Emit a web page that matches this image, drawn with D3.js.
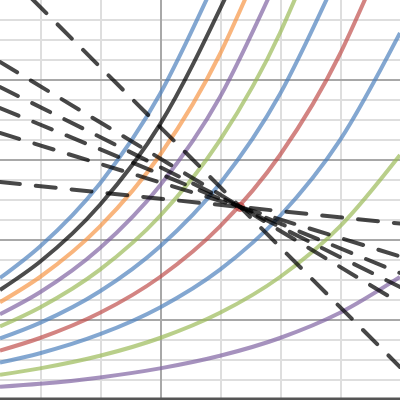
<!DOCTYPE html>
<meta charset="utf-8">
<style>
body { margin: 0; background: #fff; }
svg { display: block; }
.grid line { shape-rendering: crispEdges; }
.grid path { display: none; }
.curves path { fill: none; stroke-width: 4px; stroke-opacity: 0.7; }
.tangents path { fill: none; stroke: #000; stroke-opacity: 0.72; stroke-width: 4px;
  stroke-dasharray: 20 16; stroke-linecap: round; }
</style>
<body>
<svg width="400" height="400"></svg>
<script src="https://d3js.org/d3.v7.min.js"></script>
<script>

// grid ticks
var xMinorTicks = [-2, -1, 1, 2, 3];
var xMajorTicks = [0, 4];
var yMinorTicks = [1, 2, 3, 5, 6, 7, 9, 10, 11, 13, 14, 15, 17, 18, 19];
var yMajorTicks = [4, 8, 12, 16];

// curves, bottom to top as [x, y] points
var curvePoints = [
  [[-2.667, 0.61], [-2, 0.76], [-1, 1.08], [0, 1.53], [1, 2.16], [2, 3.05], [3, 4.31], [4, 6.10]],
  [[-2.667, 1.21], [-2, 1.53], [-1, 2.16], [0, 3.05], [1, 4.31], [2, 6.10], [3, 8.63], [4, 12.20]],
  [[-2.667, 1.82], [-2, 2.29], [-1, 3.24], [0, 4.58], [1, 6.47], [2, 9.15], [3, 12.94], [4, 18.30]],
  [[-2.667, 2.42], [-2, 3.05], [-1, 4.31], [0, 6.10], [1, 8.63], [2, 12.20], [3, 17.25], [3.42, 20]],
  [[-2.667, 3.03], [-2, 3.81], [-1, 5.39], [0, 7.63], [1, 10.78], [2, 15.25], [2.78, 20]],
  [[-2.667, 3.63], [-2, 4.58], [-1, 6.47], [0, 9.15], [1, 12.94], [2, 18.30], [2.25, 20]],
  [[-2.667, 4.24], [-2, 5.34], [-1, 7.55], [0, 10.68], [1, 15.10], [1.80, 20]],
  [[-2.667, 4.84], [-2, 6.10], [-1, 8.63], [0, 12.20], [1, 17.25], [1.42, 20]],
  [[-2.667, 5.45], [-2, 6.86], [-1, 9.71], [0, 13.73], [1.08, 20]],
  [[-2.667, 6.05], [-2, 7.63], [-1, 10.78], [0, 15.25], [0.78, 20]]
];
var curveColors = ["#8064a2", "#9bbb59", "#4f81bd", "#c0504d", "#4f81bd",
                   "#9bbb59", "#8064a2", "#f79646", "#000000", "#4f81bd"];

// dashed lines through the marked point, as end points
var linePoints = [
  [[-2.13, 20], [4, 1.6]],
  [[-2.667, 16.85], [4, 4.8]],
  [[-2.667, 15.6], [4, 5.6]],
  [[-2.667, 14.55], [4, 6.3]],
  [[-2.667, 13.3], [4, 7.13]],
  [[-2.667, 10.85], [4, 8.77]]
];
var markPoint = [1.333, 9.6];

var svg = d3.select("svg"),
    width = +svg.attr("width"),
    height = +svg.attr("height");

var x = d3.scaleLinear().domain([-8 / 3, 4]).range([0, width]);
var y = d3.scaleLinear().domain([0, 20]).range([height - 1, -1]);

function gridX(ticks, color) {
  svg.append("g")
      .attr("class", "grid")
      .attr("transform", "translate(0," + height + ")")
      .call(d3.axisBottom(x).tickValues(ticks).tickSize(-height).tickFormat(""))
    .selectAll("line")
      .attr("stroke", color)
      .attr("stroke-width", 2);
}

function gridY(ticks, color) {
  svg.append("g")
      .attr("class", "grid")
      .call(d3.axisLeft(y).tickValues(ticks).tickSize(-width).tickFormat(""))
    .selectAll("line")
      .attr("stroke", color)
      .attr("stroke-width", 2);
}

gridX(xMinorTicks, "#dedede");
gridY(yMinorTicks, "#dedede");
gridX(xMajorTicks, "#a8a8a8");
gridY(yMajorTicks, "#a8a8a8");

// x axis along the bottom
svg.append("line")
    .attr("x1", 0).attr("x2", width)
    .attr("y1", y(0)).attr("y2", y(0))
    .attr("stroke", "#555")
    .attr("stroke-width", 3);

var line = d3.line()
    .x(function(d) { return x(d[0]); })
    .y(function(d) { return y(d[1]); });

svg.append("g")
    .attr("class", "curves")
  .selectAll("path")
  .data(curvePoints)
  .enter().append("path")
    .attr("stroke", function(d, i) { return curveColors[i]; })
    .attr("d", line.curve(d3.curveMonotoneX));

svg.append("circle")
    .attr("cx", x(markPoint[0]))
    .attr("cy", y(markPoint[1]))
    .attr("r", 5)
    .attr("fill", "#c0504d")
    .attr("fill-opacity", 0.8);

svg.append("g")
    .attr("class", "tangents")
  .selectAll("path")
  .data(linePoints)
  .enter().append("path")
    .attr("d", d3.line()
        .x(function(d) { return x(d[0]); })
        .y(function(d) { return y(d[1]); }));

</script>
</body>
